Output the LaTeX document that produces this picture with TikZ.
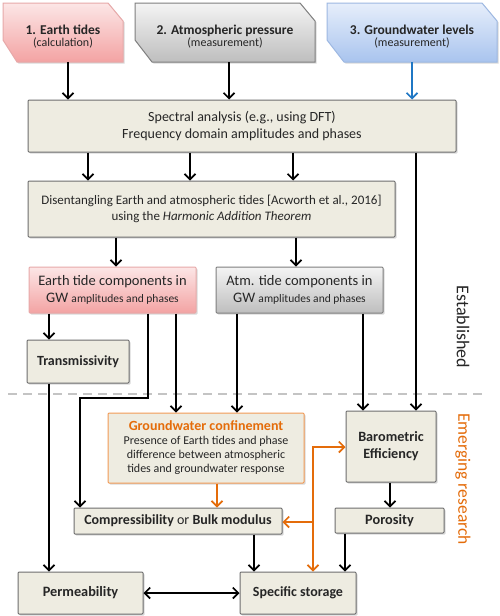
\documentclass[tikz,border=0pt]{standalone}
\usepackage{fontspec}
\setmainfont{Carlito}
\usetikzlibrary{arrows.meta,shadows,calc}
\definecolor{beige}{HTML}{EEECE1}
\definecolor{boxline}{HTML}{6E6E6E}
\definecolor{pinkT}{HTML}{FCE6E6}
\definecolor{pinkB}{HTML}{F3A3A3}
\definecolor{pinkL}{HTML}{E7A9A9}
\definecolor{grayT}{HTML}{F4F4F4}
\definecolor{grayB}{HTML}{BEBEBE}
\definecolor{grayL}{HTML}{7F7F7F}
\definecolor{blueT}{HTML}{E6EEFB}
\definecolor{blueB}{HTML}{A9C4EE}
\definecolor{blueL}{HTML}{9DB8E2}
\definecolor{orng}{HTML}{E46C0A}
\definecolor{orngL}{HTML}{F29A55}
\definecolor{arrblue}{HTML}{1F77C4}
\definecolor{txt}{HTML}{262626}
\definecolor{dashc}{HTML}{C4C4C4}
\newcommand{\fsz}[2]{\fontsize{#1}{#2}\selectfont}
\begin{document}
\begin{tikzpicture}[x=1pt,y=-1pt,
  shad/.style={drop shadow={opacity=0.3,shadow xshift=1.5pt,shadow yshift=-1.5pt}},
  box/.style={draw=boxline, fill=beige, line width=1pt, rounded corners=1pt, align=center, inner sep=0pt, shad, text=txt},
  pinkbox/.style={box, draw=pinkL, top color=pinkT, bottom color=pinkB},
  graybox/.style={box, draw=grayL, top color=grayT, bottom color=grayB},
  orbox/.style={box, draw=orngL},
  snip/.style={line width=1pt, shad},
  txtnode/.style={align=center, inner sep=0pt, text=txt},
  arr/.style={line width=1.7pt, -{Straight Barb[length=5.5pt,width=11pt]}},
  dbl/.style={line width=1.7pt, {Straight Barb[length=5.5pt,width=11pt]}-{Straight Barb[length=5.5pt,width=11pt]}},
  barr/.style={arr, draw=arrblue},
  oarr/.style={arr, draw=orng},
  lbl/.style={inner sep=0pt}
]
\useasboundingbox (0,0) rectangle (500,616);
\fill[white] (0,0) rectangle (500,616);

% snipped source boxes
\path[snip, top color=pinkT, bottom color=pinkB, draw=pinkL] (3,3) -- (108,3) -- (123,21) -- (123,62) -- (17,62) -- (3,40) -- cycle;
\path[snip, top color=grayT, bottom color=grayB, draw=grayL] (135,3) -- (300,3) -- (315,21) -- (315,62) -- (152,62) -- (135,40) -- cycle;
\path[snip, top color=blueT, bottom color=blueB, draw=blueL] (327,3) -- (482,3) -- (497,21) -- (497,62) -- (344,62) -- (327,40) -- cycle;

\node[txtnode, minimum width=120, minimum height=51] (et) at (63,36.5)
  {{\bfseries\fsz{13.5}{15}1. Earth tides}\\{\fsz{12}{14}(calculation)}};
\node[txtnode, minimum width=180, minimum height=51] (ap) at (225,36.5)
  {{\bfseries\fsz{13.5}{15}2. Atmospheric pressure}\\{\fsz{12}{14}(measurement)}};
\node[txtnode, minimum width=170, minimum height=51] (gw) at (412,36.5)
  {{\bfseries\fsz{13.5}{15}3. Groundwater levels}\\{\fsz{12}{14}(measurement)}};

% main boxes
\node[box, minimum width=428, minimum height=52, font=\fsz{14}{17}] (spec) at (242,126)
  {Spectral analysis (e.g., using DFT)\\Frequency domain amplitudes and phases};
\node[box, minimum width=367, minimum height=56, font=\fsz{13}{16.5}] (dis) at (211.5,209)
  {Disentangling Earth and atmospheric tides [Acworth et al., 2016]\\using the \textit{Harmonic Addition Theorem}};
\node[pinkbox, minimum width=167, minimum height=46, font=\fsz{14.5}{17}] (etc) at (112.5,290)
  {Earth tide components in\\GW {\fsz{11.5}{17}amplitudes and phases}};
\node[graybox, minimum width=167, minimum height=46, font=\fsz{14.5}{17}] (atc) at (299.5,290)
  {Atm. tide components in\\GW {\fsz{11.5}{17}amplitudes and phases}};
\node[box, minimum width=102, minimum height=43, font=\bfseries\fsz{14}{15}] (tr) at (78,361.5) {Transmissivity};
\node[orbox, minimum width=196, minimum height=70, font=\fsz{12}{14}] (gwc) at (206,448)
  {{\color{orng}\bfseries\fsz{14}{16}Groundwater confinement}\\Presence of Earth tides and phase\\difference between atmospheric\\tides and groundwater response};
\node[box, minimum width=90, minimum height=71, font=\bfseries\fsz{14.2}{17}] (be) at (391,446.5) {Barometric\\Efficiency};
\node[box, minimum width=208, minimum height=26, font=\fsz{14}{16}] (comp) at (178,521)
  {\textbf{Compressibility} or \textbf{Bulk modulus}};
\node[box, minimum width=109, minimum height=25, font=\bfseries\fsz{14.3}{16}] (por) at (389.5,520.5) {Porosity};
\node[box, minimum width=116, minimum height=42, font=\bfseries\fsz{14}{16}] (ss) at (298,593) {Specific storage};
\node[box, minimum width=125, minimum height=42, font=\bfseries\fsz{14.3}{16}] (perm) at (80.5,593) {Permeability};

% section labels
\draw[dashc, line width=1.6pt, dash pattern=on 9pt off 6pt] (8,394) -- (482,394);
\node[lbl, rotate=-90, text=txt, font=\fsz{18}{20}] (estab) at (463,327) {Established};
\node[lbl, rotate=-90, text=orng, font=\fsz{17.5}{20}] (emerg) at (463,479) {Emerging research};

% column coordinates
\coordinate (x68) at (68,0);
\coordinate (x229) at (229,0);
\coordinate (x412) at (412,0);
\coordinate (x88) at (88,0);
\coordinate (x190) at (190,0);
\coordinate (x293) at (293,0);
\coordinate (x416) at (416,0);
\coordinate (x116) at (116,0);
\coordinate (x296) at (296,0);
\coordinate (x49) at (49,0);
\coordinate (x176) at (176,0);
\coordinate (x237) at (237,0);
\coordinate (x363) at (363,0);
\coordinate (x217) at (217,0);
\coordinate (x254) at (254,0);
\coordinate (x345) at (345,0);
\coordinate (x390) at (390,0);
\coordinate (bend1) at (148,398);
\coordinate (bend2) at (80,398);
\coordinate (oj) at (313,447);
\coordinate (ok) at (313,522);

% connectors
\draw[arr] (et.south -| x68) -- (spec.north -| x68);
\draw[arr] (ap.south -| x229) -- (spec.north -| x229);
\draw[barr] (gw.south -| x412) -- (spec.north -| x412);
\draw[arr] (spec.south -| x88) -- (dis.north -| x88);
\draw[arr] (spec.south -| x190) -- (dis.north -| x190);
\draw[arr] (spec.south -| x293) -- (dis.north -| x293);
\draw[arr] (spec.south -| x416) -- (be.north -| x416);
\draw[arr] (dis.south -| x116) -- (etc.north -| x116);
\draw[arr] (dis.south -| x296) -- (atc.north -| x296);
\draw[arr] (etc.south -| x49) -- (tr.north -| x49);
\draw[arr] (etc.south -| bend1) -- (bend1) -- (bend2) -- (comp.north -| bend2);
\draw[arr] (etc.south -| x176) -- (gwc.north -| x176);
\draw[arr] (atc.south -| x237) -- (gwc.north -| x237);
\draw[arr] (atc.south -| x363) -- (be.north -| x363);
\draw[arr] (tr.south -| x49) -- (perm.north -| x49);
\draw[oarr] (gwc.south -| x217) -- (comp.north -| x217);
\draw[arr] (be.south -| x390) -- (por.north -| x390);
\draw[arr] (comp.south -| x254) -- (ss.north -| x254);
\draw[arr] (por.south -| x345) -- (ss.north -| x345);
\draw[dbl, draw=orng] (ss.north -| oj) -- (oj) -- (be.west |- oj);
\draw[oarr] (ok) -- (comp.east |- ok);
\draw[dbl] (perm.east) -- (ss.west);
\end{tikzpicture}
\end{document}
